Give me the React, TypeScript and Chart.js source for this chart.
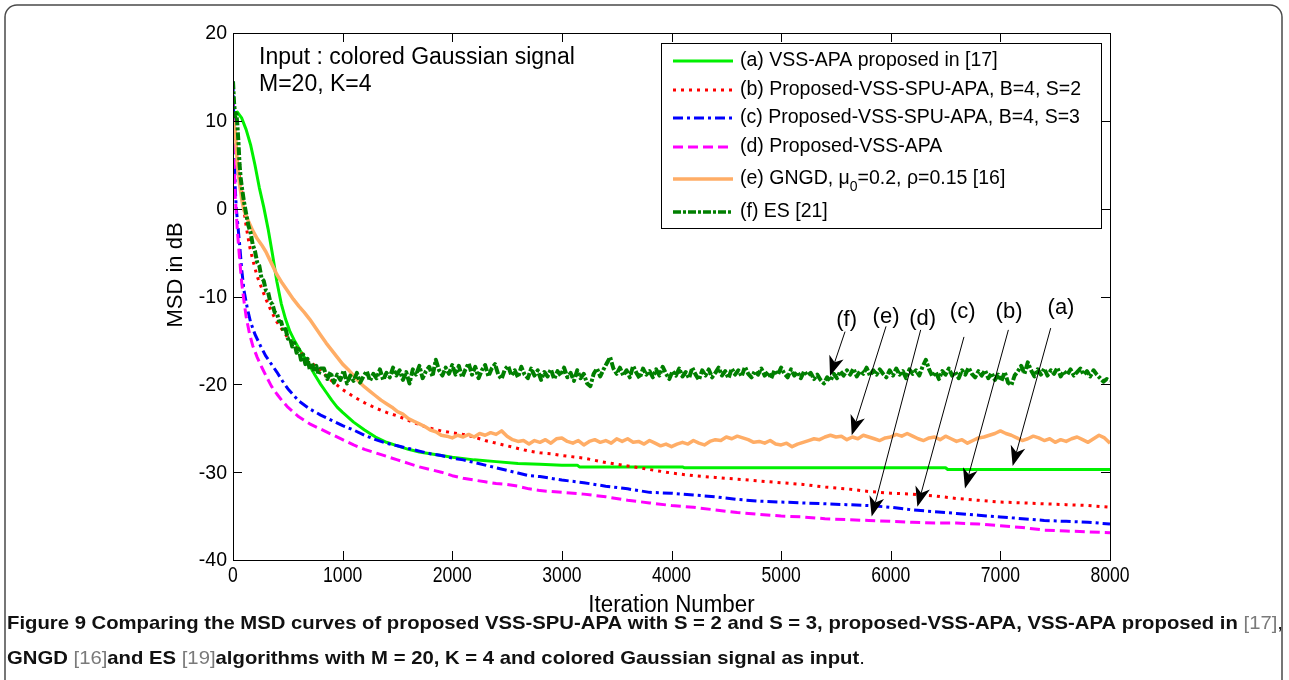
import React, { useEffect, useRef } from "react";
import { Chart, registerables } from "chart.js";

Chart.register(...registerables);

const FONT = "'Liberation Sans', Arial, Helvetica, sans-serif";

// Axis ticks
const X_TICKS = [0, 1000, 2000, 3000, 4000, 5000, 6000, 7000, 8000];
const Y_TICKS = [20, 10, 0, -10, -20, -30, -40];

// (a) VSS-APA proposed in [17]
const vssApaIter = [0, 20, 40, 80, 120, 160, 200, 240, 280, 320, 360, 400, 440, 480, 520, 560, 600, 650, 700, 750, 800, 850, 900, 950, 1000, 1100, 1200, 1300, 1400, 1500, 1600, 1700, 1800, 1900, 2000, 2200, 2400, 2600, 2800, 3000, 3140, 3160, 4100, 4120, 6500, 6520, 8000];
const vssApaMsd = [10.5, 10.9, 11.0, 10.3, 9.0, 7.3, 5.0, 2.4, 0.2, -2.3, -5.2, -8.3, -10.8, -12.6, -14.0, -15.0, -15.9, -16.9, -17.9, -19.0, -20.0, -20.9, -21.8, -22.6, -23.2, -24.3, -25.2, -26.0, -26.6, -27.0, -27.4, -27.7, -27.9, -28.1, -28.3, -28.6, -28.8, -29.0, -29.1, -29.2, -29.2, -29.4, -29.4, -29.5, -29.5, -29.7, -29.7];

// (b) Proposed-VSS-SPU-APA, B=4, S=2
const spuS2Iter = [0, 20, 40, 60, 80, 100, 120, 150, 180, 220, 260, 300, 350, 400, 450, 500, 550, 600, 650, 700, 750, 800, 900, 1000, 1100, 1200, 1300, 1400, 1500, 1600, 1700, 1800, 1900, 2000, 2100, 2200, 2300, 2400, 2500, 2600, 2700, 2800, 2900, 3000, 3200, 3400, 3600, 3800, 4000, 4200, 4400, 4600, 4800, 5000, 5200, 5400, 5600, 5800, 6000, 6200, 6400, 6600, 6800, 7000, 7200, 7400, 7600, 7800, 8000];
const spuS2Msd = [12.0, 8.5, 5.4, 3.6, 2.0, -0.2, -2.0, -4.2, -5.8, -7.7, -9.0, -10.3, -11.7, -12.9, -13.8, -14.7, -15.5, -16.1, -16.8, -17.4, -17.9, -18.5, -19.6, -20.6, -21.4, -22.1, -22.7, -23.2, -23.6, -24.1, -24.6, -25.0, -25.3, -25.5, -25.7, -26.0, -26.4, -26.7, -27.0, -27.3, -27.6, -27.8, -27.9, -28.1, -28.4, -28.9, -29.3, -29.7, -30.1, -30.4, -30.6, -30.8, -31.0, -31.2, -31.4, -31.7, -31.9, -32.2, -32.4, -32.5, -32.7, -33.0, -33.2, -33.4, -33.5, -33.6, -33.7, -33.8, -34.0];

// (c) Proposed-VSS-SPU-APA, B=4, S=3
const spuS3Iter = [0, 10, 20, 30, 40, 60, 80, 100, 130, 160, 200, 250, 300, 350, 400, 450, 500, 600, 700, 800, 900, 1000, 1100, 1200, 1300, 1400, 1500, 1600, 1700, 1800, 1900, 2000, 2100, 2200, 2300, 2400, 2500, 2600, 2700, 2800, 2900, 3000, 3200, 3400, 3600, 3800, 4000, 4200, 4400, 4600, 4800, 5000, 5200, 5400, 5600, 5800, 6000, 6200, 6400, 6600, 6800, 7000, 7200, 7400, 7600, 7800, 8000];
const spuS3Msd = [14.5, 8.0, 2.5, 0.0, -1.3, -4.0, -7.0, -9.3, -11.3, -12.9, -14.3, -15.6, -16.8, -17.7, -18.6, -19.6, -20.5, -21.9, -22.8, -23.5, -24.1, -24.7, -25.2, -25.8, -26.3, -26.7, -27.0, -27.3, -27.6, -27.9, -28.1, -28.4, -28.6, -28.9, -29.2, -29.5, -29.8, -30.1, -30.4, -30.5, -30.7, -30.9, -31.2, -31.6, -31.9, -32.3, -32.4, -32.6, -32.8, -33.1, -33.3, -33.4, -33.5, -33.6, -33.7, -33.8, -34.0, -34.3, -34.5, -34.7, -34.9, -35.1, -35.3, -35.5, -35.6, -35.7, -35.9];

// (d) Proposed-VSS-APA
const vssIter = [0, 10, 20, 30, 40, 60, 80, 100, 120, 150, 180, 220, 260, 300, 350, 400, 450, 500, 600, 700, 800, 900, 1000, 1100, 1200, 1300, 1400, 1500, 1600, 1700, 1800, 1900, 2000, 2100, 2200, 2300, 2400, 2500, 2600, 2700, 2800, 2900, 3000, 3200, 3400, 3600, 3800, 4000, 4200, 4400, 4600, 4800, 5000, 5200, 5400, 5600, 5800, 6000, 6200, 6400, 6600, 6800, 7000, 7200, 7400, 7600, 7800, 8000];
const vssMsd = [12.5, 6.0, 1.5, -0.5, -2.5, -5.7, -8.5, -10.5, -12.3, -14.2, -15.6, -16.9, -18.0, -19.0, -20.2, -21.1, -21.9, -22.6, -23.7, -24.5, -25.1, -25.7, -26.3, -26.9, -27.4, -27.8, -28.2, -28.6, -29.0, -29.4, -29.7, -30.0, -30.4, -30.7, -30.9, -31.1, -31.3, -31.4, -31.6, -31.9, -32.1, -32.2, -32.3, -32.5, -32.8, -33.2, -33.5, -33.8, -34.0, -34.3, -34.6, -34.8, -35.0, -35.1, -35.3, -35.4, -35.5, -35.6, -35.7, -35.8, -35.8, -35.9, -36.1, -36.3, -36.6, -36.7, -36.8, -36.9];

// (e) GNGD, mu0 = 0.2, rho = 0.15 [16]: transient samples, then steady-state samples every 50 iterations from 2000
const gngdTransientIter = [0, 20, 40, 60, 80, 100, 140, 180, 220, 260, 300, 350, 400, 450, 500, 550, 600, 650, 700, 750, 800, 850, 900, 950, 1000, 1050, 1100, 1150, 1200, 1250, 1300, 1350, 1400, 1450, 1500, 1550, 1600, 1650, 1700, 1750, 1800, 1850, 1900, 1950];
const gngdTransientMsd = [10.0, 9.0, 5.0, 2.8, 1.0, -0.2, -1.4, -2.5, -3.4, -4.1, -4.9, -6.2, -7.5, -8.5, -9.4, -10.3, -11.1, -11.8, -12.6, -13.5, -14.4, -15.3, -16.1, -16.9, -17.7, -18.3, -19.0, -19.7, -20.3, -20.8, -21.3, -21.8, -22.2, -22.6, -23.1, -23.4, -23.9, -24.2, -24.5, -24.8, -25.2, -25.4, -25.8, -25.9];
const gngdSteadyStart = 2000;
const gngdSteadyStep = 50;
const gngdSteadyMsd = [
  -26.1, -25.8, -26.0, -25.7, -26.0, -25.6, -25.8, -25.5, -25.7, -25.3,
  -25.9, -26.3, -26.5, -26.4, -26.8, -26.4, -26.6, -26.3, -26.7, -26.2,
  -26.1, -26.5, -26.7, -26.4, -26.9, -26.5, -26.3, -26.6, -26.4, -26.7,
  -26.2, -26.5, -26.2, -26.6, -26.5, -26.8, -26.4, -26.7, -27.0, -26.8,
  -27.1, -26.8, -26.6, -26.8, -26.4, -26.7, -26.9, -26.5, -26.3, -26.4,
  -26.0, -26.2, -25.9, -26.1, -26.3, -26.6, -26.5, -26.7, -26.4, -26.8,
  -26.9, -26.7, -27.1, -26.8, -26.6, -26.4, -26.2, -26.3, -26.0, -25.8,
  -26.0, -25.9, -26.3, -26.0, -26.2, -25.8, -26.0, -26.2, -26.4, -26.1,
  -26.0, -25.7, -25.9, -25.6, -25.9, -26.2, -26.4, -26.1, -26.0, -26.3,
  -25.9, -26.2, -26.5, -26.3, -26.7, -26.4, -26.1, -26.0, -25.8, -25.6,
  -25.3, -25.6, -25.8, -26.1, -26.4, -26.2, -25.9, -26.1, -26.4, -26.2,
  -26.6, -26.3, -26.5, -26.2, -26.0, -26.3, -26.6, -26.2, -25.8, -26.1,
  -26.7,
];

// (f) ES [21]: transient samples, then steady-state samples every 30 iterations from 830
const esTransientIter = [0, 10, 20, 30, 40, 50, 60, 70, 80, 100, 120, 140, 160, 180, 200, 220, 240, 260, 280, 300, 320, 340, 360, 380, 400, 420, 440, 460, 480, 500, 520, 540, 560, 580, 600, 620, 640, 660, 680, 700, 720, 740, 760, 780, 800];
const esTransientMsd = [14.5, 12.0, 10.5, 11.0, 9.5, 7.5, 5.0, 3.5, 2.5, 0.8, -0.6, -1.9, -2.7, -4.1, -4.8, -6.1, -6.5, -7.9, -8.2, -9.3, -9.5, -10.6, -10.9, -11.8, -11.9, -12.8, -12.9, -13.9, -13.7, -14.8, -14.7, -15.7, -15.3, -16.4, -16.0, -17.2, -16.6, -17.7, -17.1, -18.3, -17.6, -18.6, -17.9, -18.9, -18.2];
const esSteadyStart = 830;
const esSteadyStep = 30;
const esSteadyMsd = [
  -18.2, -19.4, -18.6, -19.8, -18.9, -19.5, -18.4, -19.9, -19.0, -19.6,
  -18.7, -19.8, -19.1, -18.5, -19.6, -18.8, -19.3, -18.3, -19.5, -18.7,
  -19.2, -18.1, -19.0, -18.4, -19.5, -18.6, -19.9, -18.3, -18.9, -17.9,
  -19.3, -18.5, -18.0, -19.1, -17.2, -18.4, -19.0, -18.1, -18.8, -17.8,
  -18.9, -17.9, -19.2, -18.3, -17.6, -18.9, -18.0, -19.3, -18.4, -17.8,
  -19.1, -18.2, -17.7, -18.9, -19.4, -18.3, -17.9, -19.0, -18.4, -19.2,
  -18.0, -18.9, -19.3, -18.2, -19.0, -18.4, -19.5, -18.6, -19.1, -18.3,
  -19.4, -18.5, -19.0, -18.1, -19.2, -18.7, -19.6, -18.4, -19.3, -18.8,
  -19.9, -20.2, -18.8, -18.2, -19.1, -18.3, -17.6, -16.9, -18.2, -18.8,
  -18.1, -19.0, -18.4, -19.2, -17.9, -18.7, -19.3, -18.2, -18.9, -18.5,
  -19.2, -18.3, -19.0, -18.0, -18.8, -19.4, -18.5, -19.0, -18.2, -19.1,
  -18.6, -19.3, -18.1, -18.9, -19.5, -18.4, -19.0, -18.3, -19.2, -18.7,
  -18.1, -19.0, -18.5, -19.3, -18.2, -18.9, -18.4, -19.1, -18.0, -18.8,
  -19.2, -18.5, -18.9, -18.2, -19.0, -18.6, -19.3, -18.4, -18.9, -18.1,
  -18.8, -19.2, -18.3, -19.0, -18.6, -19.3, -18.5, -19.0, -18.7, -19.4,
  -18.9, -19.5, -19.9, -19.2, -19.6, -18.8, -19.3, -18.5, -19.0, -18.4,
  -18.9, -18.2, -19.1, -18.5, -18.8, -18.1, -19.0, -18.4, -18.9, -18.3,
  -18.8, -19.2, -18.4, -19.0, -18.2, -18.9, -18.5, -19.3, -18.3, -18.8,
  -18.4, -19.0, -18.0, -17.2, -18.3, -19.1, -18.6, -19.4, -18.5, -18.9,
  -18.2, -19.0, -18.6, -19.3, -18.4, -18.9, -18.1, -18.8, -19.2, -18.5,
  -19.0, -18.4, -19.3, -18.7, -19.5, -18.9, -19.6, -18.6, -19.8, -20.1,
  -19.0, -18.5, -17.9, -18.8, -17.5, -18.4, -19.1, -18.3, -18.9, -18.2,
  -19.0, -18.4, -18.8, -18.1, -19.1, -18.5, -18.9, -18.3, -19.0, -18.6,
  -18.2, -18.9, -18.5, -19.1, -18.4, -18.9, -19.3, -19.7, -19.4, -19.6,
];

// Legend text (|...| marks a subscript)
const LEGEND_LABELS = [
  "(a) VSS-APA proposed in [17]",
  "(b) Proposed-VSS-SPU-APA, B=4, S=2",
  "(c) Proposed-VSS-SPU-APA, B=4, S=3",
  "(d) Proposed-VSS-APA",
  "(e) GNGD, μ|0|=0.2, ρ=0.15 [16]",
  "(f) ES [21]",
];

// Curve call-outs (label position, arrow start, arrow tip), in data units
const CALLOUT_LABELS = ["(f)", "(e)", "(d)", "(c)", "(b)", "(a)"];
const calloutLabelIter = [5598, 5957, 6291, 6656, 7079, 7553];
const calloutLabelMsd = [-12.7, -12.3, -12.5, -11.8, -11.8, -11.3];
const arrowFromIter = [5583, 5957, 6273, 6668, 7073, 7459];
const arrowFromMsd = [-14.0, -13.4, -13.8, -14.6, -13.8, -13.6];
const arrowToIter = [5446, 5644, 5826, 6243, 6677, 7112];
const arrowToMsd = [-19.05, -25.8, -35.05, -33.95, -31.85, -29.3];

const INFO_LINES = ["Input : colored Gaussian signal", "M=20, K=4"];
const X_TITLE = "Iteration Number";
const Y_TITLE = "MSD in dB";

type Seg = { t: string; bold: boolean; gray?: boolean };
const CAPTION_LINE1: Seg[] = [
  { t: "Figure 9", bold: true },
  { t: " Comparing the MSD curves of proposed VSS-SPU-APA with S = 2 and S = 3, proposed-VSS-APA, VSS-APA proposed in", bold: true },
  { t: " [17]", bold: false, gray: true },
  { t: ",", bold: false },
];
const CAPTION_LINE2: Seg[] = [
  { t: "GNGD", bold: true },
  { t: " [16]", bold: false, gray: true },
  { t: "and ES", bold: true },
  { t: " [19]", bold: false, gray: true },
  { t: "algorithms with M = 20, K = 4 and colored Gaussian signal as input", bold: true },
  { t: ".", bold: false },
];

const zip = (xs: number[], ys: number[]) => xs.map((x, i) => ({ x, y: ys[i] }));

function drawArrow(ctx: CanvasRenderingContext2D, x1: number, y1: number, x2: number, y2: number) {
  const ang = Math.atan2(y2 - y1, x2 - x1);
  const len = 20;
  const half = 7.5;
  const notch = 0.72;
  const c = Math.cos(ang);
  const s = Math.sin(ang);
  ctx.beginPath();
  ctx.moveTo(x1, y1);
  ctx.lineTo(x2 - c * len * notch, y2 - s * len * notch);
  ctx.stroke();
  ctx.beginPath();
  ctx.moveTo(x2, y2);
  ctx.lineTo(x2 - c * len - s * half, y2 - s * len + c * half);
  ctx.lineTo(x2 - c * len * notch, y2 - s * len * notch);
  ctx.lineTo(x2 - c * len + s * half, y2 - s * len - c * half);
  ctx.closePath();
  ctx.fill();
}

const figurePlugin = {
  id: "figureDecor",
  beforeDraw(chart: any) {
    const { ctx, width, height } = chart;
    ctx.save();
    ctx.fillStyle = "#ffffff";
    ctx.fillRect(0, 0, width, height);
    ctx.restore();
  },
  afterDraw(chart: any) {
    const { ctx, chartArea: ca } = chart;
    const xs = chart.scales.x;
    const ys = chart.scales.y;
    ctx.save();

    // axes box and inward ticks on all four sides
    ctx.strokeStyle = "#000";
    ctx.lineWidth = 1;
    ctx.setLineDash([]);
    ctx.strokeRect(Math.round(ca.left) + 0.5, Math.round(ca.top) + 0.5, Math.round(ca.right - ca.left), Math.round(ca.bottom - ca.top));
    ctx.beginPath();
    X_TICKS.forEach((v) => {
      const px = Math.round(xs.getPixelForValue(v)) + 0.5;
      ctx.moveTo(px, ca.bottom);
      ctx.lineTo(px, ca.bottom - 9);
      ctx.moveTo(px, ca.top);
      ctx.lineTo(px, ca.top + 9);
    });
    Y_TICKS.forEach((v) => {
      const py = Math.round(ys.getPixelForValue(v)) + 0.5;
      ctx.moveTo(ca.left, py);
      ctx.lineTo(ca.left + 9, py);
      ctx.moveTo(ca.right, py);
      ctx.lineTo(ca.right - 9, py);
    });
    ctx.stroke();

    // tick labels
    ctx.fillStyle = "#000";
    ctx.font = `19.5px ${FONT}`;
    ctx.textAlign = "right";
    ctx.textBaseline = "middle";
    Y_TICKS.forEach((v) => {
      ctx.fillText(String(v), ca.left - 6, ys.getPixelForValue(v) + 1);
    });
    ctx.font = `22px ${FONT}`;
    ctx.textAlign = "center";
    ctx.textBaseline = "alphabetic";
    X_TICKS.forEach((v) => {
      const px = xs.getPixelForValue(v);
      ctx.save();
      ctx.translate(px, ca.bottom + 22);
      ctx.scale(0.8, 1);
      ctx.fillText(String(v), 0, 0);
      ctx.restore();
    });

    // axis titles
    ctx.save();
    ctx.font = `23.5px ${FONT}`;
    ctx.textAlign = "center";
    ctx.translate((ca.left + ca.right) / 2, 612);
    ctx.scale(0.95, 1);
    ctx.fillText(X_TITLE, 0, 0);
    ctx.restore();
    ctx.save();
    ctx.font = `22px ${FONT}`;
    ctx.textAlign = "center";
    ctx.textBaseline = "middle";
    ctx.translate(176, 275);
    ctx.rotate(-Math.PI / 2);
    ctx.fillText(Y_TITLE, 0, 0);
    ctx.restore();

    // info text
    ctx.font = `23px ${FONT}`;
    ctx.textAlign = "left";
    ctx.textBaseline = "alphabetic";
    ctx.fillText(INFO_LINES[0], 259, 64);
    ctx.fillText(INFO_LINES[1], 259, 90.5);

    // legend
    const lx1 = 661.5, ly1 = 43.5, lx2 = 1101.5, ly2 = 228.5;
    ctx.fillStyle = "#fff";
    ctx.fillRect(lx1, ly1, lx2 - lx1, ly2 - ly1);
    ctx.strokeStyle = "#000";
    ctx.lineWidth = 1;
    ctx.strokeRect(lx1, ly1, lx2 - lx1, ly2 - ly1);
    const rowY = [61, 90, 118, 147, 179, 212];
    chart.data.datasets.forEach((ds: any) => {
      const y = rowY[ds.legendRow];
      ctx.save();
      ctx.strokeStyle = ds.borderColor;
      ctx.lineWidth = Math.min(ds.borderWidth, 3.5);
      ctx.setLineDash(ds.borderDash || []);
      ctx.beginPath();
      ctx.moveTo(673, y);
      ctx.lineTo(733, y);
      ctx.stroke();
      ctx.restore();
      ctx.fillStyle = "#000";
      ctx.font = `19.5px ${FONT}`;
      ctx.textBaseline = "middle";
      ctx.textAlign = "left";
      const parts = LEGEND_LABELS[ds.legendRow].split("|");
      let x = 740;
      parts.forEach((p, k) => {
        if (k % 2 === 1) {
          ctx.font = `14px ${FONT}`;
          ctx.fillText(p, x, y + 8);
          x += ctx.measureText(p).width;
          ctx.font = `19.5px ${FONT}`;
        } else {
          ctx.fillText(p, x, y);
          x += ctx.measureText(p).width;
        }
      });
    });

    // call-outs with arrows
    ctx.fillStyle = "#000";
    ctx.strokeStyle = "#000";
    ctx.lineWidth = 1;
    ctx.setLineDash([]);
    ctx.font = `22px ${FONT}`;
    ctx.textAlign = "center";
    ctx.textBaseline = "middle";
    CALLOUT_LABELS.forEach((lab, i) => {
      ctx.fillText(lab, xs.getPixelForValue(calloutLabelIter[i]), ys.getPixelForValue(calloutLabelMsd[i]));
      drawArrow(
        ctx,
        xs.getPixelForValue(arrowFromIter[i]),
        ys.getPixelForValue(arrowFromMsd[i]),
        xs.getPixelForValue(arrowToIter[i]),
        ys.getPixelForValue(arrowToMsd[i])
      );
    });

    // caption
    const capSize = 19;
    const segFont = (s: Seg) => `${s.bold ? "bold " : ""}${capSize}px ${FONT}`;
    const measure = (segs: Seg[]) =>
      segs.reduce((acc, s) => {
        ctx.font = segFont(s);
        return acc + ctx.measureText(s.t).width;
      }, 0);
    const sx = 1276 / measure(CAPTION_LINE1);
    const drawLine = (segs: Seg[], baseline: number) => {
      ctx.save();
      ctx.translate(7, baseline);
      ctx.scale(sx, 1);
      let x = 0;
      ctx.textAlign = "left";
      ctx.textBaseline = "alphabetic";
      segs.forEach((s) => {
        ctx.font = segFont(s);
        ctx.fillStyle = s.gray ? "#7a7a7a" : "#111";
        ctx.fillText(s.t, x, 0);
        x += ctx.measureText(s.t).width;
      });
      ctx.restore();
    };
    drawLine(CAPTION_LINE1, 629);
    drawLine(CAPTION_LINE2, 664);

    // rounded figure frame
    ctx.strokeStyle = "#4a4a4a";
    ctx.lineWidth = 1.5;
    ctx.beginPath();
    ctx.roundRect(5, 5, 1277, 720, 12);
    ctx.stroke();

    ctx.restore();
  },
};

export default function App() {
  const canvasRef = useRef<HTMLCanvasElement | null>(null);

  useEffect(() => {
    if (!canvasRef.current) return;
    const esIter = esTransientIter.concat(esSteadyMsd.map((_, i) => esSteadyStart + i * esSteadyStep));
    const esMsd = esTransientMsd.concat(esSteadyMsd);
    const gngdIter = gngdTransientIter.concat(gngdSteadyMsd.map((_, i) => gngdSteadyStart + i * gngdSteadyStep));
    const gngdMsd = gngdTransientMsd.concat(gngdSteadyMsd);

    const chart = new Chart(canvasRef.current, {
      type: "line",
      data: {
        datasets: [
          { label: LEGEND_LABELS[0], data: zip(vssApaIter, vssApaMsd), borderColor: "#00f000", borderWidth: 3, borderDash: [], order: 5, legendRow: 0 } as any,
          { label: LEGEND_LABELS[1], data: zip(spuS2Iter, spuS2Msd), borderColor: "#ff0000", borderWidth: 3, borderDash: [3, 5], order: 4, legendRow: 1 } as any,
          { label: LEGEND_LABELS[2], data: zip(spuS3Iter, spuS3Msd), borderColor: "#0000ff", borderWidth: 3, borderDash: [10, 4, 3, 4], order: 3, legendRow: 2 } as any,
          { label: LEGEND_LABELS[3], data: zip(vssIter, vssMsd), borderColor: "#ff00ff", borderWidth: 3, borderDash: [10, 5], order: 2, legendRow: 3 } as any,
          { label: LEGEND_LABELS[4], data: zip(gngdIter, gngdMsd), borderColor: "#ffad66", borderWidth: 3.5, borderDash: [], order: 1, legendRow: 4 } as any,
          { label: LEGEND_LABELS[5], data: zip(esIter, esMsd), borderColor: "#007f00", borderWidth: 4, borderDash: [8, 2, 3, 2], order: 0, legendRow: 5 } as any,
        ],
      },
      options: {
        responsive: false,
        animation: false,
        events: [],
        layout: { padding: { left: 233, top: 33, right: 179, bottom: 120 } },
        elements: { point: { radius: 0 }, line: { tension: 0, borderJoinStyle: "round" } },
        scales: {
          x: { type: "linear", min: 0, max: 8000, display: false },
          y: { type: "linear", min: -40, max: 20, display: false },
        },
        plugins: { legend: { display: false }, tooltip: { enabled: false } },
      },
      plugins: [figurePlugin],
    });
    return () => chart.destroy();
  }, []);

  return (
    <div style={{ position: "absolute", left: 0, top: 0, width: 1289, height: 680, background: "#fff" }}>
      <canvas ref={canvasRef} width={1289} height={680} style={{ display: "block", width: 1289, height: 680 }} />
    </div>
  );
}
